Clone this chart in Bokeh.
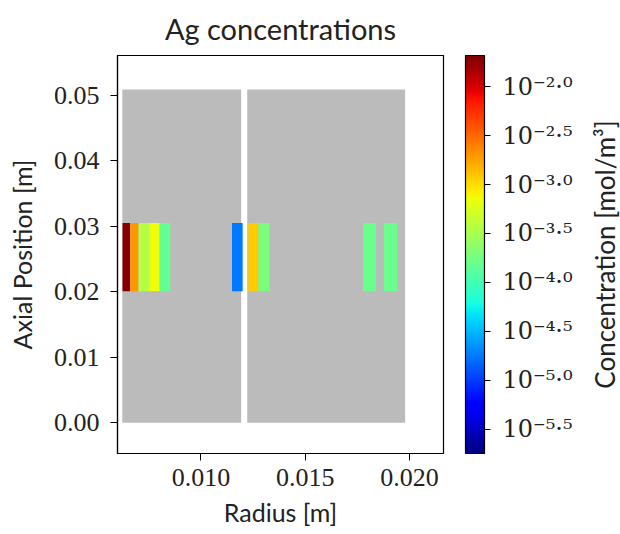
import numpy as np
from bokeh.plotting import figure
from bokeh.layouts import row
from bokeh.models import (ColumnDataSource, LogColorMapper, ColorBar, FixedTicker,
                          CustomJSTickFormatter, NumeralTickFormatter, Range1d, AllLabels)
from bokeh.embed import file_html
from bokeh.resources import INLINE

# ---- data ----
# gray regions (radius, axial bounds in m)
region_r0 = [0.00623, 0.01222]
region_r1 = [0.01193, 0.01979]
region_z0 = [0.0, 0.0]
region_z1 = [0.0509, 0.0509]

# coloured cells with Ag concentration [mol/m^3]
cell_r0 = [0.00624, 0.00661, 0.00701, 0.00752, 0.00802, 0.01149, 0.01227, 0.01276, 0.01778, 0.01877]
cell_r1 = [0.00661, 0.00701, 0.00752, 0.00802, 0.00853, 0.01200, 0.01276, 0.01329, 0.01840, 0.01941]
cell_z0 = [0.0201] * 10
cell_z1 = [0.0305] * 10
conc = [2.0e-2, 2.0e-3, 3.6e-4, 7.1e-4, 1.45e-4, 1.74e-5, 1.17e-3, 1.86e-4, 1.58e-4, 1.58e-4]

# colour bar range and ticks
cbar_low = 10 ** -5.75
cbar_high = 10 ** -1.68
cbar_exps = [-2.0, -2.5, -3.0, -3.5, -4.0, -4.5, -5.0, -5.5]
cbar_labels = ["10⁻²·⁰", "10⁻²·⁵", "10⁻³·⁰", "10⁻³·⁵", "10⁻⁴·⁰", "10⁻⁴·⁵", "10⁻⁵·⁰", "10⁻⁵·⁵"]

x_ticks = [0.010, 0.015, 0.020]
y_ticks = [0.00, 0.01, 0.02, 0.03, 0.04, 0.05]


def jet(n=256):
    t = np.linspace(0, 1, n)
    r = np.interp(t, [0, 0.35, 0.66, 0.89, 1], [0, 0, 1, 1, 0.5])
    g = np.interp(t, [0, 0.125, 0.375, 0.64, 0.91, 1], [0, 0, 1, 1, 0, 0])
    b = np.interp(t, [0, 0.11, 0.34, 0.65, 1], [0.5, 1, 1, 0, 0])
    return ["#%02x%02x%02x" % (int(round(a * 255)), int(round(c * 255)), int(round(d * 255)))
            for a, c, d in zip(r, g, b)]


palette = jet()
mapper = LogColorMapper(palette=palette, low=cbar_low, high=cbar_high)

SANS = "Lato"
SERIF = "Liberation Serif"
TXT = "#222222"

p = figure(width=590, height=534, output_backend="svg", toolbar_location=None,
           x_range=Range1d(0.0060, 0.02163), y_range=Range1d(-0.0047, 0.0561),
           min_border_left=117, min_border_right=147, min_border_top=53, min_border_bottom=81)
p.title.text = "Ag concentrations"
p.title.align = "center"
p.title.vertical_align = "middle"
p.title.text_font = SANS
p.title.text_font_size = "29px"
p.title.text_font_style = "normal"
p.title.text_color = TXT
p.title.standoff = 18

p.grid.visible = False
p.outline_line_color = "black"
p.outline_line_width = 1.2
p.background_fill_color = "white"
p.border_fill_color = "white"

regions = ColumnDataSource(dict(l=region_r0, r=region_r1, b=region_z0, t=region_z1))
p.quad(left="l", right="r", bottom="b", top="t", source=regions,
       fill_color="#bbbbbb", line_color=None)

cells = ColumnDataSource(dict(l=cell_r0, r=cell_r1, b=cell_z0, t=cell_z1, c=conc))
p.quad(left="l", right="r", bottom="b", top="t", source=cells,
       fill_color={"field": "c", "transform": mapper}, line_color=None)

for ax in (p.xaxis[0], p.yaxis[0]):
    ax.axis_line_color = "black"
    ax.axis_line_width = 1.2
    ax.major_tick_line_color = "black"
    ax.major_tick_out = 7
    ax.major_tick_in = 0
    ax.minor_tick_line_color = None
    ax.major_label_text_font = SERIF
    ax.major_label_text_font_size = "26px"
    ax.major_label_text_color = TXT
    ax.axis_label_text_font = SANS
    ax.axis_label_text_font_size = "25px"
    ax.axis_label_text_font_style = "normal"
    ax.axis_label_text_color = TXT

p.xaxis.ticker = FixedTicker(ticks=x_ticks)
p.yaxis.ticker = FixedTicker(ticks=y_ticks)
p.xaxis.formatter = NumeralTickFormatter(format="0.000")
p.yaxis.formatter = NumeralTickFormatter(format="0.00")
p.xaxis.axis_label = "Radius [m]"
p.yaxis.axis_label = "Axial Position [m]"
p.xaxis.major_label_standoff = 8
p.yaxis.major_label_standoff = 11
p.xaxis.axis_label_standoff = 8
p.yaxis.axis_label_standoff = 14

fmt = CustomJSTickFormatter(args=dict(exps=cbar_exps, labels=cbar_labels), code="""
const e = Math.log10(tick);
let best = 0;
for (let i = 0; i < exps.length; i++) {
  if (Math.abs(exps[i] - e) < Math.abs(exps[best] - e)) best = i;
}
return labels[best];
""")

cbar = ColorBar(color_mapper=mapper, orientation="vertical", width=19, height=398,
                location=(22, 0), margin=0, padding=0,
                ticker=FixedTicker(ticks=[10 ** e for e in cbar_exps]),
                formatter=fmt, major_label_policy=AllLabels(),
                major_tick_out=6, major_tick_in=0, major_tick_line_color="black",
                minor_tick_line_color=None,
                bar_line_color="black", bar_line_width=1.2,
                label_standoff=12,
                major_label_text_font="DejaVu Serif", major_label_text_font_size="24px",
                major_label_text_color=TXT,
                background_fill_color=None, border_line_color=None)
p.add_layout(cbar, "right")

# narrow companion figure that only carries the colour-bar title
q = figure(width=30, height=534, output_backend="svg", toolbar_location=None,
           x_range=Range1d(0, 1), y_range=Range1d(0, 1), x_axis_location=None,
           min_border_left=26, min_border_right=0, min_border_top=53, min_border_bottom=81)
q.grid.visible = False
q.outline_line_color = None
q.border_fill_color = "white"
q.background_fill_color = "white"
q.yaxis.ticker = FixedTicker(ticks=[])
q.yaxis.axis_line_color = None
q.yaxis.major_tick_line_color = None
q.yaxis.minor_tick_line_color = None
q.yaxis.major_label_text_font_size = "0px"
q.yaxis.axis_label = "Concentration [mol/m³]"
q.yaxis.axis_label_standoff = 0
q.yaxis.axis_label_text_font = SANS
q.yaxis.axis_label_text_font_size = "26px"
q.yaxis.axis_label_text_font_style = "normal"
q.yaxis.axis_label_text_color = TXT

layout = row(p, q, spacing=0)
open("out.html", "w").write(file_html(layout, INLINE))
